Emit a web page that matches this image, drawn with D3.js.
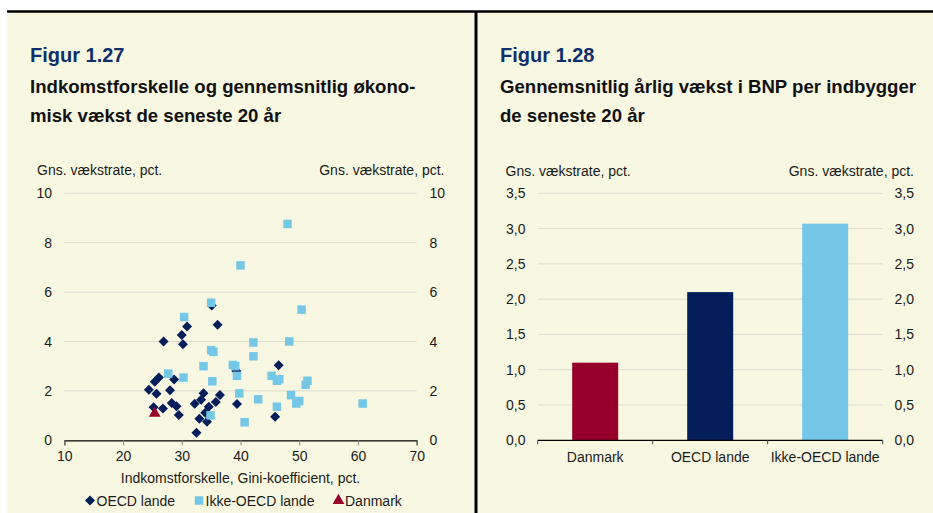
<!DOCTYPE html>
<meta charset="utf-8">
<title>Figur 1.27 og 1.28</title>
<style>
  body { margin:0; padding:0; background:#fff; }
  svg text { font-family: 'Liberation Sans', Arial, sans-serif; fill:#1a1a1a; }
  .fig { font-weight:700; fill:#0d2f6b !important; font-size:20px; }
  .sub { font-weight:700; fill:#111 !important; font-size:18.6px; }
  .lbl { font-size:14px; }
  .grid line { stroke:#dcdcd0; stroke-width:1; }
</style>
<body>
<svg id="chart" width="933" height="513"></svg>
<script src="https://cdn.jsdelivr.net/npm/d3@7"></script>
<script>

// Figur 1.27 - scatter data (Gini, growth)
var oecdGini   = [35.1,30.9,36.1,26.9,30.0,30.2,46.5,39.3,26.1,25.4,28.7,24.4,25.7,28.0,33.7,33.3,36.5,35.8,32.2,25.2,26.8,28.3,29.1,29.5,34.6,34.0,33.0,34.3,39.4,45.9,32.5];
var oecdGrowth = [5.46,4.61,4.68,4.00,4.26,3.89,3.04,2.81,2.54,2.37,2.46,2.05,1.88,2.03,1.90,1.64,1.83,1.55,1.48,1.34,1.29,1.51,1.38,1.02,1.36,1.12,0.87,0.75,1.47,0.95,0.31];

var nonOecdGini   = [48.0,40.0,35.0,50.4,30.4,42.2,48.3,35.0,35.4,42.2,33.7,38.7,39.1,39.4,27.7,30.3,35.2,45.3,46.2,46.6,51.4,51.1,39.8,48.6,43.0,50.0,49.5,60.8,46.2,34.9,40.7];
var nonOecdGrowth = [8.76,7.08,5.57,5.29,4.99,3.96,4.00,3.65,3.58,3.40,3.00,3.05,3.00,2.61,2.70,2.54,2.39,2.61,2.41,2.47,2.41,2.25,1.90,1.83,1.66,1.59,1.49,1.49,1.36,1.01,0.73];

var danmarkGini = [25.4];
var danmarkGrowth = [1.09];

var xTicks = [10,20,30,40,50,60,70];
var yTicks = [0,2,4,6,8,10];

// Figur 1.28 - bars
var barCategories = ['Danmark','OECD lande','Ikke-OECD lande'];
var barValues = [1.1, 2.1, 3.07];
var barTicks = [0,0.5,1,1.5,2,2.5,3,3.5];

var colNavy = '#041d5b', colLight = '#74c7e6', colRed = '#96002a', bg = '#f8f8e2';

var svg = d3.select("#chart");
var dk = d3.formatLocale({decimal: ",", thousands: ".", grouping: [3], currency: ["", " kr."]});
var fmt1 = dk.format(".1f");

// background + borders
svg.append("rect").attr("x",7).attr("y",11).attr("width",926).attr("height",502).attr("fill",bg);
svg.append("line").attr("x1",7).attr("x2",933).attr("y1",11.5).attr("y2",11.5).attr("stroke","#000").attr("stroke-width",2.5);
svg.append("line").attr("x1",476).attr("x2",476).attr("y1",11).attr("y2",513).attr("stroke","#000").attr("stroke-width",3);

// titles
function titles(x, fig, lines) {
  svg.append("text").attr("class","fig").attr("x",x).attr("y",62).text(fig);
  lines.forEach(function(l,i) {
    svg.append("text").attr("class","sub").attr("x",x).attr("y",93 + i*29).text(l);
  });
}
titles(30, "Figur 1.27", ["Indkomstforskelle og gennemsnitlig økono-", "misk vækst de seneste 20 år"]);
titles(500, "Figur 1.28", ["Gennemsnitlig årlig vækst i BNP per indbygger", "de seneste 20 år"]);

// ---- scatter ----
var x = d3.scaleLinear().domain([10,70]).range([64.3,416.7]);
var y = d3.scaleLinear().domain([0,10]).range([440.3,193.3]);

svg.append("g").attr("class","grid")
  .selectAll("line").data(yTicks.filter(function(d){return d>0;})).enter().append("line")
  .attr("x1",x(10)).attr("x2",x(70)).attr("y1",function(d){return y(d);}).attr("y2",function(d){return y(d);});

svg.append("text").attr("class","lbl").attr("x",37).attr("y",175).text("Gns. vækstrate, pct.");
svg.append("text").attr("class","lbl").attr("x",444.5).attr("y",175).attr("text-anchor","end").text("Gns. vækstrate, pct.");

svg.selectAll(".yl").data(yTicks).enter().append("text").attr("class","lbl")
  .attr("x",52).attr("y",function(d){return y(d)+5;}).attr("text-anchor","end").text(function(d){return d;});
svg.selectAll(".yr").data(yTicks).enter().append("text").attr("class","lbl")
  .attr("x",429.5).attr("y",function(d){return y(d)+5;}).text(function(d){return d;});

var xAxis = svg.append("g").attr("transform","translate(0,"+y(0)+")")
  .call(d3.axisBottom(x).tickValues(xTicks).tickSize(5).tickPadding(6));
xAxis.select(".domain").attr("stroke","#000").attr("stroke-width",1.2);
xAxis.selectAll(".tick line").attr("stroke","#888");
xAxis.selectAll(".tick text").attr("class","lbl").style("font-family","'Liberation Sans', Arial, sans-serif").attr("fill","#1a1a1a");

svg.append("text").attr("class","lbl").attr("x",240.5).attr("y",483).attr("text-anchor","middle")
  .text("Indkomstforskelle, Gini-koefficient, pct.");

var diamond = d3.symbol().type(d3.symbolSquare).size(50);
var square = d3.symbol().type(d3.symbolSquare).size(72);
var tri = d3.symbol().type(d3.symbolTriangle).size(60);

svg.append("g").selectAll("path").data(d3.range(oecdGini.length)).enter().append("path")
  .attr("d", diamond)
  .attr("transform", function(i){ return "translate("+x(oecdGini[i])+","+y(oecdGrowth[i])+") rotate(45)"; })
  .attr("fill", colNavy);

svg.append("g").selectAll("path").data(d3.range(nonOecdGini.length)).enter().append("path")
  .attr("d", square)
  .attr("transform", function(i){ return "translate("+x(nonOecdGini[i])+","+y(nonOecdGrowth[i])+")"; })
  .attr("fill", colLight);

svg.append("g").selectAll("path").data(d3.range(danmarkGini.length)).enter().append("path")
  .attr("d", tri)
  .attr("transform", function(i){ return "translate("+x(danmarkGini[i])+","+y(danmarkGrowth[i])+")"; })
  .attr("fill", colRed);

// legend
var leg = [
  {sym: diamond, rot: 45, col: colNavy, x: 90, label: "OECD lande"},
  {sym: square, rot: 0, col: colLight, x: 199, label: "Ikke-OECD lande"},
  {sym: tri, rot: 0, col: colRed, x: 338.5, label: "Danmark"}
];
leg.forEach(function(l) {
  svg.append("path").attr("d", l.sym).attr("fill", l.col)
    .attr("transform","translate("+l.x+",500.5) rotate("+l.rot+")");
  svg.append("text").attr("class","lbl").attr("x", l.x + 6.5).attr("y", 505.5).text(l.label);
});

// ---- bars ----
var bx = d3.scaleBand().domain(barCategories).range([537.7,882.7]).paddingInner(0.6).paddingOuter(0.3);
var by = d3.scaleLinear().domain([0,3.5]).range([440.3,193.3]);

svg.append("g").attr("class","grid")
  .selectAll("line").data(barTicks.filter(function(d){return d>0;})).enter().append("line")
  .attr("x1",537.7).attr("x2",882.7).attr("y1",function(d){return by(d);}).attr("y2",function(d){return by(d);});

svg.append("text").attr("class","lbl").attr("x",505.5).attr("y",176).text("Gns. vækstrate, pct.");
svg.append("text").attr("class","lbl").attr("x",914).attr("y",176).attr("text-anchor","end").text("Gns. vækstrate, pct.");

svg.selectAll(".bl").data(barTicks).enter().append("text").attr("class","lbl")
  .attr("x",525.5).attr("y",function(d){return by(d)+5;}).attr("text-anchor","end").text(function(d){return fmt1(d);});
svg.selectAll(".br").data(barTicks).enter().append("text").attr("class","lbl")
  .attr("x",914).attr("y",function(d){return by(d)+5;}).attr("text-anchor","end").text(function(d){return fmt1(d);});

var barCols = [colRed, colNavy, colLight];
svg.append("g").selectAll("rect").data(barValues).enter().append("rect")
  .attr("x", function(d,i){ return bx(barCategories[i]); })
  .attr("width", bx.bandwidth())
  .attr("y", function(d){ return by(d); })
  .attr("height", function(d){ return by(0) - by(d); })
  .attr("fill", function(d,i){ return barCols[i]; });

var step = (882.7-537.7)/barCategories.length;
svg.append("line").attr("x1",537.7).attr("x2",882.7).attr("y1",by(0)).attr("y2",by(0)).attr("stroke","#000").attr("stroke-width",1.2);
svg.selectAll(".bt").data(d3.range(barCategories.length+1)).enter().append("line")
  .attr("x1",function(i){return 537.7+i*step;}).attr("x2",function(i){return 537.7+i*step;})
  .attr("y1",by(0)).attr("y2",by(0)+4).attr("stroke","#444");

svg.selectAll(".bc").data(barCategories).enter().append("text").attr("class","lbl")
  .attr("x",function(d){ return bx(d) + bx.bandwidth()/2; }).attr("y",462)
  .attr("text-anchor","middle").text(function(d){return d;});

</script>
</body>
</html>
